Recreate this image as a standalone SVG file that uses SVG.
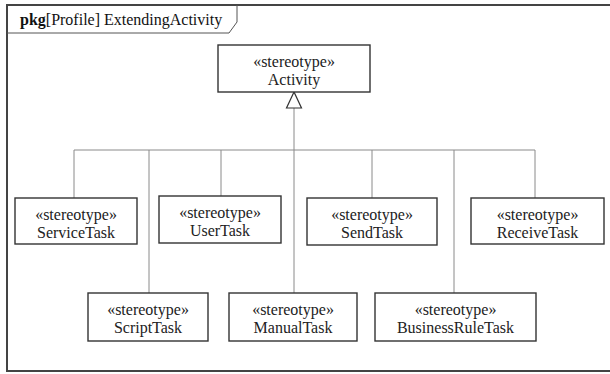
<svg xmlns="http://www.w3.org/2000/svg" width="610" height="374" viewBox="0 0 610 374">
<style>
.box{fill:#fff;stroke:#333;stroke-width:1.4}
.t{font-family:"Liberation Serif","Times New Roman",serif;font-size:16px;fill:#222;text-anchor:middle}
.c{fill:none;stroke:#8a8a8a;stroke-width:1}
</style>
<rect width="610" height="374" fill="#fff"/>
<g id="frame">
<rect x="7" y="5" width="606" height="366" fill="none" stroke="#444" stroke-width="2"/>
<path d="M7 33 H229 L237 22 V5" fill="none" stroke="#555" stroke-width="1"/>
<text x="20" y="25" font-family="Liberation Serif, serif" font-size="16" fill="#111"><tspan font-weight="bold">pkg</tspan>[Profile] ExtendingActivity</text>
</g>
<g id="connectors">
<path class="c" d="M294 108 V150 M74 150 H535 M74 150 V198 M149 150 V293 M221 150 V196 M294 150 V293 M372 150 V198 M454 150 V293 M535 150 V198"/>
<path d="M294 92 L286.5 108 H301.5 Z" fill="#fff" stroke="#333" stroke-width="1.2"/>
</g>
<g id="Activity"><rect class="box" x="218" y="45" width="152" height="47"/><text class="t" x="294" y="67">«stereotype»</text><text class="t" x="294" y="85">Activity</text></g>
<g id="ServiceTask"><rect class="box" x="15" y="198" width="122" height="46"/><text class="t" x="76" y="220">«stereotype»</text><text class="t" x="76" y="238">ServiceTask</text></g>
<g id="UserTask"><rect class="box" x="159" y="196" width="122" height="47"/><text class="t" x="220" y="218">«stereotype»</text><text class="t" x="220" y="236">UserTask</text></g>
<g id="SendTask"><rect class="box" x="307" y="198" width="130" height="47"/><text class="t" x="372" y="220">«stereotype»</text><text class="t" x="372" y="238">SendTask</text></g>
<g id="ReceiveTask"><rect class="box" x="471" y="198" width="133" height="46"/><text class="t" x="537.5" y="220">«stereotype»</text><text class="t" x="537.5" y="238">ReceiveTask</text></g>
<g id="ScriptTask"><rect class="box" x="88" y="293" width="120" height="48"/><text class="t" x="148" y="315">«stereotype»</text><text class="t" x="148" y="333">ScriptTask</text></g>
<g id="ManualTask"><rect class="box" x="229" y="293" width="128" height="48"/><text class="t" x="293" y="315">«stereotype»</text><text class="t" x="293" y="333">ManualTask</text></g>
<g id="BusinessRuleTask"><rect class="box" x="375" y="293" width="161" height="48"/><text class="t" x="455.5" y="315">«stereotype»</text><text class="t" x="455.5" y="333">BusinessRuleTask</text></g>
</svg>
